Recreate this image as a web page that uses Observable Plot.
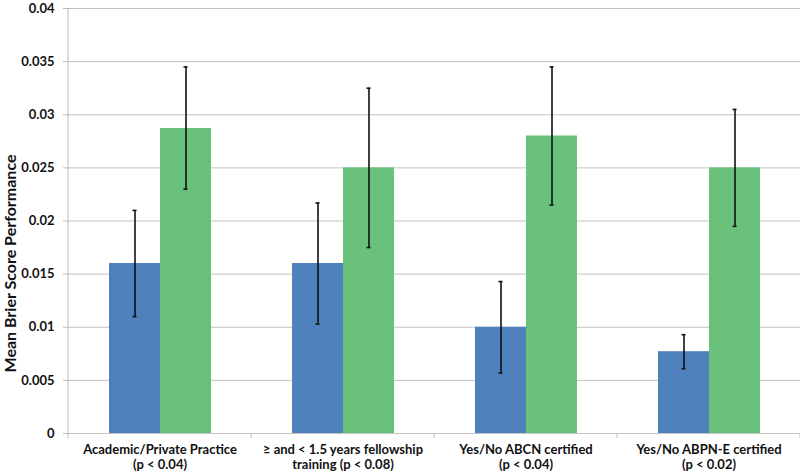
<!DOCTYPE html>
<html>
<head>
<meta charset="utf-8">
<script src="https://cdn.jsdelivr.net/npm/d3@7"></script>
<script src="https://cdn.jsdelivr.net/npm/@observablehq/plot@0.6"></script>
<style>
  html, body { margin: 0; padding: 0; background: #fff; }
  #chart { width: 800px; height: 474px; }
</style>
</head>
<body>
<div id="chart"></div>
<script>
const categories = [
  "Academic/Private Practice\n(p < 0.04)",
  "≥ and < 1.5 years fellowship\ntraining (p < 0.08)",
  "Yes/No ABCN certified\n(p < 0.04)",
  "Yes/No ABPN-E certified\n(p < 0.02)"
];
const groups = ["Group 1", "Group 2"];
const group1Means = [0.016, 0.016, 0.0100, 0.0077];
const group1Low   = [0.011, 0.0103, 0.0057, 0.0061];
const group1High  = [0.021, 0.0217, 0.0143, 0.0093];
const group2Means = [0.0287, 0.025, 0.028, 0.025];
const group2Low   = [0.023, 0.0175, 0.0215, 0.0195];
const group2High  = [0.0345, 0.0325, 0.0345, 0.0305];
const yTicks = [0, 0.005, 0.01, 0.015, 0.02, 0.025, 0.03, 0.035, 0.04];
const yTitle = "Mean Brier Score Performance";

const rows = [];
categories.forEach((c, i) => {
  rows.push({category: c, group: groups[0], mean: group1Means[i], lo: group1Low[i], hi: group1High[i]});
  rows.push({category: c, group: groups[1], mean: group2Means[i], lo: group2Low[i], hi: group2High[i]});
});

const font = "Lato, 'Open Sans', sans-serif";
const chart = Plot.plot({
  width: 800,
  height: 474,
  marginLeft: 67,
  marginRight: 0,
  marginTop: 8,
  marginBottom: 41,
  style: {fontFamily: font, fontWeight: "bold", color: "#111", background: "#fff"},
  fx: {domain: categories, padding: 0, label: null},
  x: {domain: groups, paddingInner: 0, paddingOuter: 0.76, axis: null},
  y: {domain: [0, 0.04], label: null},
  color: {domain: groups, range: ["#4F81BD", "#6AC17B"]},
  marks: [
    Plot.ruleY(yTicks, {stroke: "#c4c4c4", strokeWidth: 1}),
    Plot.barY(rows, {fx: "category", x: "group", y: "mean", fill: "group"}),
    Plot.ruleX(rows, {fx: "category", x: "group", y1: "lo", y2: "hi", stroke: "#111", strokeWidth: 1.6}),
    Plot.tickY(rows, {fx: "category", x: "group", y: "hi", insetLeft: 23.5, insetRight: 23.5, stroke: "#111", strokeWidth: 1.6}),
    Plot.tickY(rows, {fx: "category", x: "group", y: "lo", insetLeft: 23.5, insetRight: 23.5, stroke: "#111", strokeWidth: 1.6}),
    Plot.axisY({ticks: yTicks, tickFormat: d => String(d), tickSize: 5, tickPadding: 9, stroke: "#bbb", fontSize: 13, fontWeight: "bold", label: null}),
    Plot.axisFx({anchor: "bottom", tickSize: 0, tickPadding: 10, fontSize: 13, fontWeight: "bold", lineHeight: 1.15, label: null})
  ]
});
document.getElementById("chart").appendChild(chart);

// axis lines, category boundary ticks and y title, positioned from Plot's scales
const svg = d3.select(chart);
const fx = chart.scale("fx");
const y = chart.scale("y");
const left = fx.apply(categories[0]);
const right = fx.apply(categories[categories.length - 1]) + fx.bandwidth;
const y0 = y.apply(0);
const yTop = y.apply(0.04);
const g = svg.append("g").attr("stroke", "#bbb").attr("stroke-width", 1);
g.append("line").attr("x1", left).attr("x2", left).attr("y1", yTop).attr("y2", y0);
const bounds = categories.map(c => fx.apply(c)).concat([right]);
bounds.forEach(b => {
  g.append("line").attr("x1", b).attr("x2", b).attr("y1", y0).attr("y2", y0 + 5);
});
svg.append("text")
  .attr("transform", `translate(12,${(yTop + y0) / 2 + 43}) rotate(-90)`)
  .attr("text-anchor", "middle")
  .attr("dominant-baseline", "middle")
  .attr("font-family", font)
  .attr("font-weight", "bold")
  .attr("font-size", 16)
  .attr("fill", "#111")
  .text(yTitle);
</script>
</body>
</html>
